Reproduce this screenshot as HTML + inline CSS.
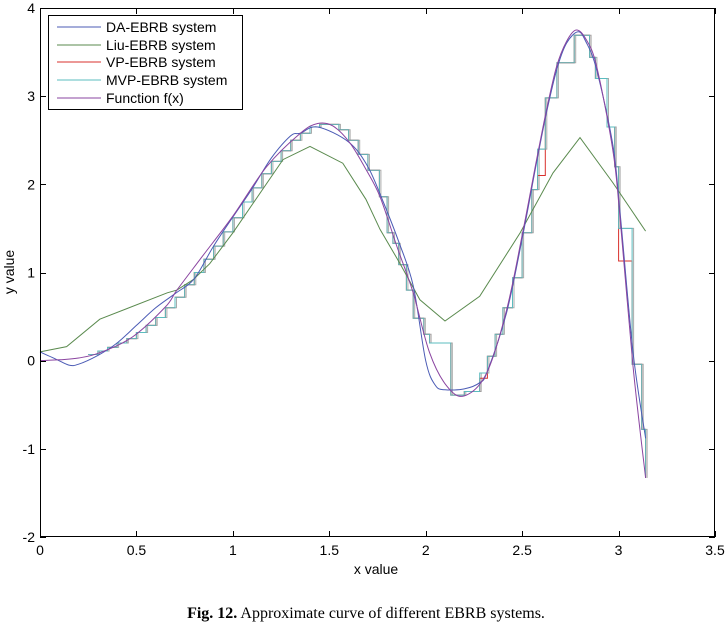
<!DOCTYPE html>
<html><head><meta charset="utf-8"><style>
body{margin:0;background:#fff;width:728px;height:625px;overflow:hidden}
svg{display:block;font-family:"Liberation Sans",sans-serif}
</style></head><body>
<svg id="chart" width="728" height="625" viewBox="0 0 728 625">
<g id="marks"></g>
<g id="axes"></g>
<text x="376" y="574" font-size="14" text-anchor="middle">x value</text>
<text x="14" y="272" font-size="14" text-anchor="middle" transform="rotate(-90 14 272)">y value</text>
<text x="366" y="618" font-size="16" text-anchor="middle" font-family="Liberation Serif, serif"><tspan font-weight="bold">Fig. 12.</tspan> Approximate curve of different EBRB systems.</text>
<g>
<rect x="48.5" y="15.5" width="194" height="94" fill="#fff" stroke="#000"/>
<line x1="57" y1="27" x2="101" y2="27" stroke="#4b5bb5"/>
<text x="106" y="32" font-size="14">DA-EBRB system</text>
<line x1="57" y1="45" x2="101" y2="45" stroke="#5a8a4e"/>
<text x="106" y="50" font-size="14">Liu-EBRB system</text>
<line x1="57" y1="62" x2="101" y2="62" stroke="#d9302c"/>
<text x="106" y="67" font-size="14">VP-EBRB system</text>
<line x1="57" y1="80" x2="101" y2="80" stroke="#5bbcbf"/>
<text x="106" y="85" font-size="14">MVP-EBRB system</text>
<line x1="57" y1="98" x2="101" y2="98" stroke="#8a44a0"/>
<text x="106" y="103" font-size="14">Function f(x)</text>
</g>
</svg>
<script>
const xTicks=[0,0.5,1,1.5,2,2.5,3,3.5];
const yTicks=[-2,-1,0,1,2,3,4];
const fX=[0,0.1,0.2,0.31,0.48,0.65,0.71,0.83,1.0,1.175,1.35,1.44,1.52,1.607,1.69,1.763,1.85,1.935,2.02,2.11,2.2,2.316,2.42,2.506,2.575,2.627,2.679,2.73,2.78,2.83,2.886,2.97,3.007,3.075,3.14];
const fY=[0,0.01,0.03,0.09,0.27,0.61,0.8,1.15,1.64,2.2,2.58,2.69,2.66,2.47,2.17,1.86,1.3,0.77,0.09,-0.29,-0.4,-0.14,0.58,1.49,2.28,2.85,3.34,3.62,3.75,3.65,3.34,2.39,1.64,-0.06,-1.33];
const daX=[0,0.08,0.15,0.2,0.3,0.4,0.5,0.6,0.7,0.8,0.9,1.0,1.1,1.2,1.3,1.35,1.44,1.6,1.7,1.78,1.86,1.935,2.0,2.05,2.1,2.2,2.28,2.32,2.42,2.506,2.575,2.627,2.679,2.73,2.79,2.83,2.886,2.97,3.007,3.075,3.14];
const daY=[0.1,0.02,-0.05,-0.04,0.06,0.2,0.4,0.6,0.76,0.93,1.3,1.63,1.95,2.3,2.55,2.58,2.65,2.48,2.2,1.8,1.35,0.85,0.0,-0.28,-0.33,-0.32,-0.25,-0.12,0.55,1.45,2.25,2.82,3.3,3.6,3.73,3.62,3.3,2.45,1.7,0.1,-0.88];
const liuX=[0,0.138,0.31,0.66,0.71,0.795,0.88,1.0,1.26,1.4,1.57,1.69,1.763,1.867,1.97,2.1,2.28,2.49,2.66,2.8,2.97,3.14];
const liuY=[0.1,0.16,0.47,0.77,0.8,0.92,1.1,1.45,2.28,2.43,2.24,1.83,1.49,1.1,0.69,0.45,0.73,1.45,2.13,2.53,2.02,1.47];
const mvpX=[0.25,0.3,0.35,0.4,0.45,0.5,0.55,0.6,0.65,0.7,0.75,0.8,0.85,0.9,0.95,1.0,1.05,1.1,1.15,1.2,1.25,1.3,1.35,1.4,1.45,1.5,1.55,1.6,1.65,1.7,1.76,1.8,1.83,1.86,1.9,1.935,1.99,2.02,2.13,2.2,2.28,2.32,2.36,2.4,2.45,2.5,2.55,2.58,2.62,2.68,2.77,2.85,2.88,2.94,2.98,3.0,3.07,3.12];
const mvpY=[0.07,0.11,0.15,0.2,0.25,0.32,0.4,0.49,0.6,0.72,0.86,1.0,1.15,1.3,1.46,1.62,1.8,1.96,2.12,2.26,2.38,2.5,2.58,2.65,2.68,2.68,2.62,2.5,2.34,2.16,1.86,1.45,1.33,1.09,0.8,0.48,0.3,0.2,-0.39,-0.35,-0.14,0.05,0.3,0.6,0.94,1.45,1.94,2.4,2.98,3.38,3.69,3.44,3.2,2.65,2.2,1.5,-0.04,-0.78];
const vpY=[0.07,0.11,0.15,0.2,0.25,0.32,0.4,0.49,0.6,0.72,0.86,1.0,1.15,1.3,1.46,1.62,1.8,1.96,2.12,2.26,2.38,2.5,2.58,2.65,2.68,2.68,2.62,2.5,2.34,2.16,1.86,1.45,1.33,1.09,0.8,0.48,0.3,0.2,-0.39,-0.35,-0.2,0.05,0.3,0.6,0.94,1.45,1.94,2.1,2.98,3.38,3.69,3.44,3.2,2.65,2.2,1.13,-0.04,-0.78];
const END=3.14, END_Y=-1.33;
const X0=40,X1=715,Y0=8,Y1=537;
const sx=v=>X0+(v-0)/3.5*(X1-X0);
const sy=v=>Y1-(v+2)/6*(Y1-Y0);
const NS="http://www.w3.org/2000/svg";
const marks=document.getElementById('marks'),axes=document.getElementById('axes');
function mk(tag,attrs,parent){const e=document.createElementNS(NS,tag);for(const k in attrs)e.setAttribute(k,attrs[k]);parent.appendChild(e);return e;}
function poly(xs,ys){return xs.map((x,i)=>sx(x).toFixed(1)+','+sy(ys[i]).toFixed(1)).join(' ');}
function smooth(xs,ys){const P=xs.map((x,i)=>[sx(x),sy(ys[i])]);let d='M'+P[0][0].toFixed(1)+','+P[0][1].toFixed(1);
for(let i=0;i<P.length-1;i++){const p0=P[Math.max(i-1,0)],p1=P[i],p2=P[i+1],p3=P[Math.min(i+2,P.length-1)];
const c1=[p1[0]+(p2[0]-p0[0])/6,p1[1]+(p2[1]-p0[1])/6],c2=[p2[0]-(p3[0]-p1[0])/6,p2[1]-(p3[1]-p1[1])/6];
d+=' C'+c1[0].toFixed(1)+','+c1[1].toFixed(1)+' '+c2[0].toFixed(1)+','+c2[1].toFixed(1)+' '+p2[0].toFixed(1)+','+p2[1].toFixed(1);}return d;}
function steps(xs,ys,dx){let p=[];for(let i=0;i<xs.length;i++){const xe=i+1<xs.length?xs[i+1]:END;p.push((sx(xs[i])+dx).toFixed(1)+','+sy(ys[i]).toFixed(1));p.push((sx(xe)+dx).toFixed(1)+','+sy(ys[i]).toFixed(1));}p.push((sx(END)+dx).toFixed(1)+','+sy(END_Y).toFixed(1));return p.join(' ');}
let e;
e=mk('polyline',{points:steps(mvpX,mvpY,1.5),fill:'none',stroke:'#aaaaaa','stroke-width':1},marks);


e=mk('polyline',{points:steps(mvpX,vpY,0),fill:'none',stroke:'#d9302c','stroke-width':1},marks);


e=mk('polyline',{points:steps(mvpX,mvpY,0),fill:'none',stroke:'#5bbcbf','stroke-width':1},marks);


e=mk('polyline',{points:poly(liuX,liuY),fill:'none',stroke:'#5a8a4e','stroke-width':1},marks);


e=mk('path',{d:smooth(daX,daY),fill:'none',stroke:'#4b5bb5','stroke-width':1},marks);


e=mk('path',{d:smooth(fX,fY),fill:'none',stroke:'#8a44a0','stroke-width':1},marks);


e=mk('rect',{x:X0+0.5,y:Y0+0.5,width:X1-X0-1,height:Y1-Y0-1,fill:'none',stroke:'#000'},axes);


xTicks.forEach(t=>{const x=Math.round(sx(t))+0.5;
mk('line',{x1:x,y1:Y1,x2:x,y2:Y1-6,stroke:'#000'},axes);
mk('line',{x1:x,y1:Y0,x2:x,y2:Y0+6,stroke:'#000'},axes);
const l=mk('text',{x:sx(t),y:Y1+18,'font-size':14,'text-anchor':'middle'},axes);l.textContent=String(t);

});
yTicks.forEach(t=>{const y=Math.round(sy(t))+0.5;
mk('line',{x1:X0,y1:y,x2:X0+6,y2:y,stroke:'#000'},axes);
mk('line',{x1:X1,y1:y,x2:X1-6,y2:y,stroke:'#000'},axes);
const l=mk('text',{x:X0-5,y:sy(t)+5,'font-size':14,'text-anchor':'end'},axes);l.textContent=String(t);

});
</script>
</body></html>
